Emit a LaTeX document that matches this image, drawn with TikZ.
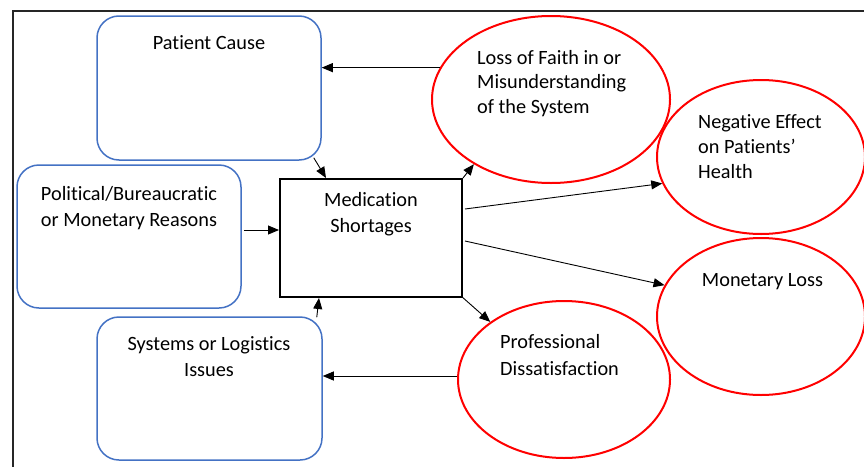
\documentclass[tikz,border=0pt]{standalone}
\usepackage{fontspec}
\setmainfont[RawFeature={-liga;-clig;-calt;-dlig}]{Carlito}
\usetikzlibrary{shapes.geometric,arrows.meta,calc}
\definecolor{boxblue}{RGB}{68,114,196}
\definecolor{ellred}{RGB}{255,0,0}
\begin{document}
\begin{tikzpicture}[x=1pt,y=-1pt,
  cause/.style={draw=boxblue,line width=1.5pt,rounded corners=22pt,minimum width=#1,inner sep=0pt},
  effect/.style={ellipse,draw=ellred,line width=2pt,inner sep=0pt},
  txt/.style={inner sep=0pt,font=\fontsize{20.3}{26.5}\selectfont},
  conn/.style={line width=0.9pt,-{Triangle[length=11pt,width=9pt]}}]
\useasboundingbox (0,0) rectangle (864,466);
% frame
\draw[line width=2pt,black!85] (12.5,470) -- (12.5,11) -- (870,11);
% cause boxes
\node[cause=224pt,minimum height=144pt] (patient) at (209,88) {};
\node[cause=224pt,minimum height=143pt] (pol) at (129,236.5) {};
\node[cause=225pt,minimum height=143pt] (sys) at (209.5,388.5) {};
% central box
\node[draw=black,line width=2pt,minimum width=182pt,minimum height=118pt,inner sep=0pt] (med) at (371,238) {};
% effect ellipses
\node[effect,minimum width=238pt,minimum height=167pt] (loss) at (551,99.5) {};
\node[effect,minimum width=208pt,minimum height=154pt] (neg) at (761,157) {};
\node[effect,minimum width=208pt,minimum height=157pt] (mon) at (761,316.5) {};
\node[effect,minimum width=212pt,minimum height=157pt] (prof) at (564,379.5) {};
% texts
\node[txt,anchor=north] (tpatient) at (209,35) {Patient Cause};
\node[txt,anchor=north,align=center] (tpol) at (129,186) {Political/Bureaucratic\\or Monetary Reasons};
\node[txt,anchor=north,align=center] (tmed) at (371,192) {Medication\\Shortages};
\node[txt,anchor=north,align=center] (tsys) at (209,336) {Systems or Logistics\\Issues};
\node[txt,anchor=north west,align=left,font=\fontsize{20.3}{24.5}\selectfont] (tloss) at (477,50) {Loss of Faith in or\\Misunderstanding\\of the System};
\node[txt,anchor=north west,align=left,font=\fontsize{20.3}{25}\selectfont] (tneg) at (698,114.5) {Negative Effect\\on Patients’\\Health};
\node[txt,anchor=north] (tmon) at (762.5,273.5) {Monetary Loss};
\node[txt,anchor=north west,align=left] (tprof) at (500,334.5) {Professional\\Dissatisfaction};
% connectors
\coordinate (profout) at ($(prof.west)+(0,-3.5)$);
\draw[conn] (loss.164) -- (loss.164 -| patient.east);
\draw[conn] ($(patient.south east)+(-8,-3)$) -- ($(med.north west)+(47,0)$);
\draw[conn] ($(pol.east)+(2,-6.5)$) -- ($(med.west)+(0,-8)$);
\draw[conn] ($(sys.north east)+(-6,1)$) -- ($(med.south west)+(40,0)$);
\draw[conn] (med.north east) -- (loss.220);
\draw[conn] ($(med.east)+(2,-29)$) -- (neg.195);
\draw[conn] ($(med.east)+(2,3)$) -- (mon.162);
\draw[conn] ($(med.south east)+(-2,-2)$) -- (prof.142.5);
\draw[conn] (profout) -- (profout -| sys.east);
\end{tikzpicture}
\end{document}
